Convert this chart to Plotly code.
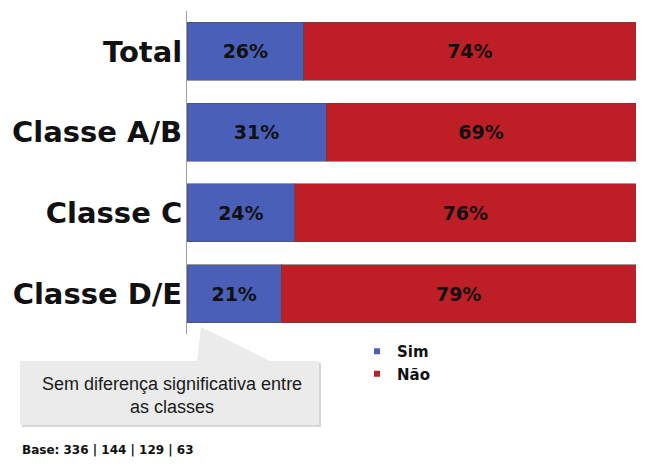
import plotly.graph_objects as go

categories = ["Total", "Classe A/B", "Classe C", "Classe D/E"]
sim = [26, 31, 24, 21]
nao = [74, 69, 76, 79]
series_names = ["Sim", "Não"]
colors = ["#4a5fb7", "#be1e25"]
callout_text = "Sem diferença significativa entre<br>as classes"
base_text = "Base: 336 | 144 | 129 | 63"

W, H = 655, 467
def px(x):
    return x / W
def py(y):
    return 1 - y / H

fig = go.Figure()
for name, vals, col in zip(series_names, [sim, nao], colors):
    fig.add_trace(go.Bar(
        y=categories, x=vals, name=name, orientation="h",
        marker=dict(color=col, line=dict(color="rgba(90,70,70,0.55)", width=1)),
        text=[f"{v}%" for v in vals], textposition="inside",
        insidetextanchor="middle",
        textfont=dict(family="DejaVu Sans", size=19, color="#111111", weight="bold"),
        showlegend=False, hoverinfo="skip",
    ))
    fig.add_trace(go.Scatter(
        x=[None], y=[None], mode="markers", name=name,
        marker=dict(symbol="square", size=6, color=col),
        showlegend=True,
    ))

# callout box with pointer
def path(points):
    s = "M " + " L ".join(f"{px(a):.5f},{py(b):.5f}" for a, b in points) + " Z"
    return s

pts = [(20, 361), (197, 361), (201, 327), (270, 361), (319, 361), (319, 425), (20, 425)]
shadow = [(a + 2, b + 2) for a, b in pts]
fig.add_shape(type="path", xref="paper", yref="paper", path=path(shadow),
              fillcolor="#d6d6d6", line=dict(width=0), layer="above")
fig.add_shape(type="path", xref="paper", yref="paper", path=path(pts),
              fillcolor="#ebebeb", line=dict(width=0), layer="above")

fig.add_annotation(xref="paper", yref="paper", x=px(172), y=py(395),
                   text=callout_text, showarrow=False, xanchor="center", yanchor="middle",
                   align="center",
                   font=dict(family="Liberation Sans, Arial", size=18, color="#1a1a1a"))
fig.add_annotation(xref="paper", yref="paper", x=px(20), y=py(450),
                   text=base_text, showarrow=False, xanchor="left", yanchor="middle",
                   font=dict(family="DejaVu Sans", size=12, color="#111111", weight="bold"))

fig.update_layout(
    width=W, height=H,
    margin=dict(l=0, r=0, t=0, b=0),
    barmode="stack", bargap=0.28,
    paper_bgcolor="white", plot_bgcolor="white",
    xaxis=dict(domain=[px(187), px(636)], range=[0, 100], visible=False, fixedrange=True),
    yaxis=dict(domain=[py(334), py(11)], autorange="reversed", showline=True,
               linecolor="#a0a0a0", linewidth=1, ticks="", showgrid=False,
               tickfont=dict(family="DejaVu Sans", size=29, color="#111111", weight="bold"),
               ticklabelstandoff=-2),
    legend=dict(x=px(357), y=py(335), xanchor="left", yanchor="top",
                traceorder="normal",
                font=dict(family="DejaVu Sans", size=15, color="#111111", weight="bold"),
                tracegroupgap=0, itemwidth=30, bgcolor="rgba(0,0,0,0)"),
    showlegend=True,
)

fig.write_html("out.html")
